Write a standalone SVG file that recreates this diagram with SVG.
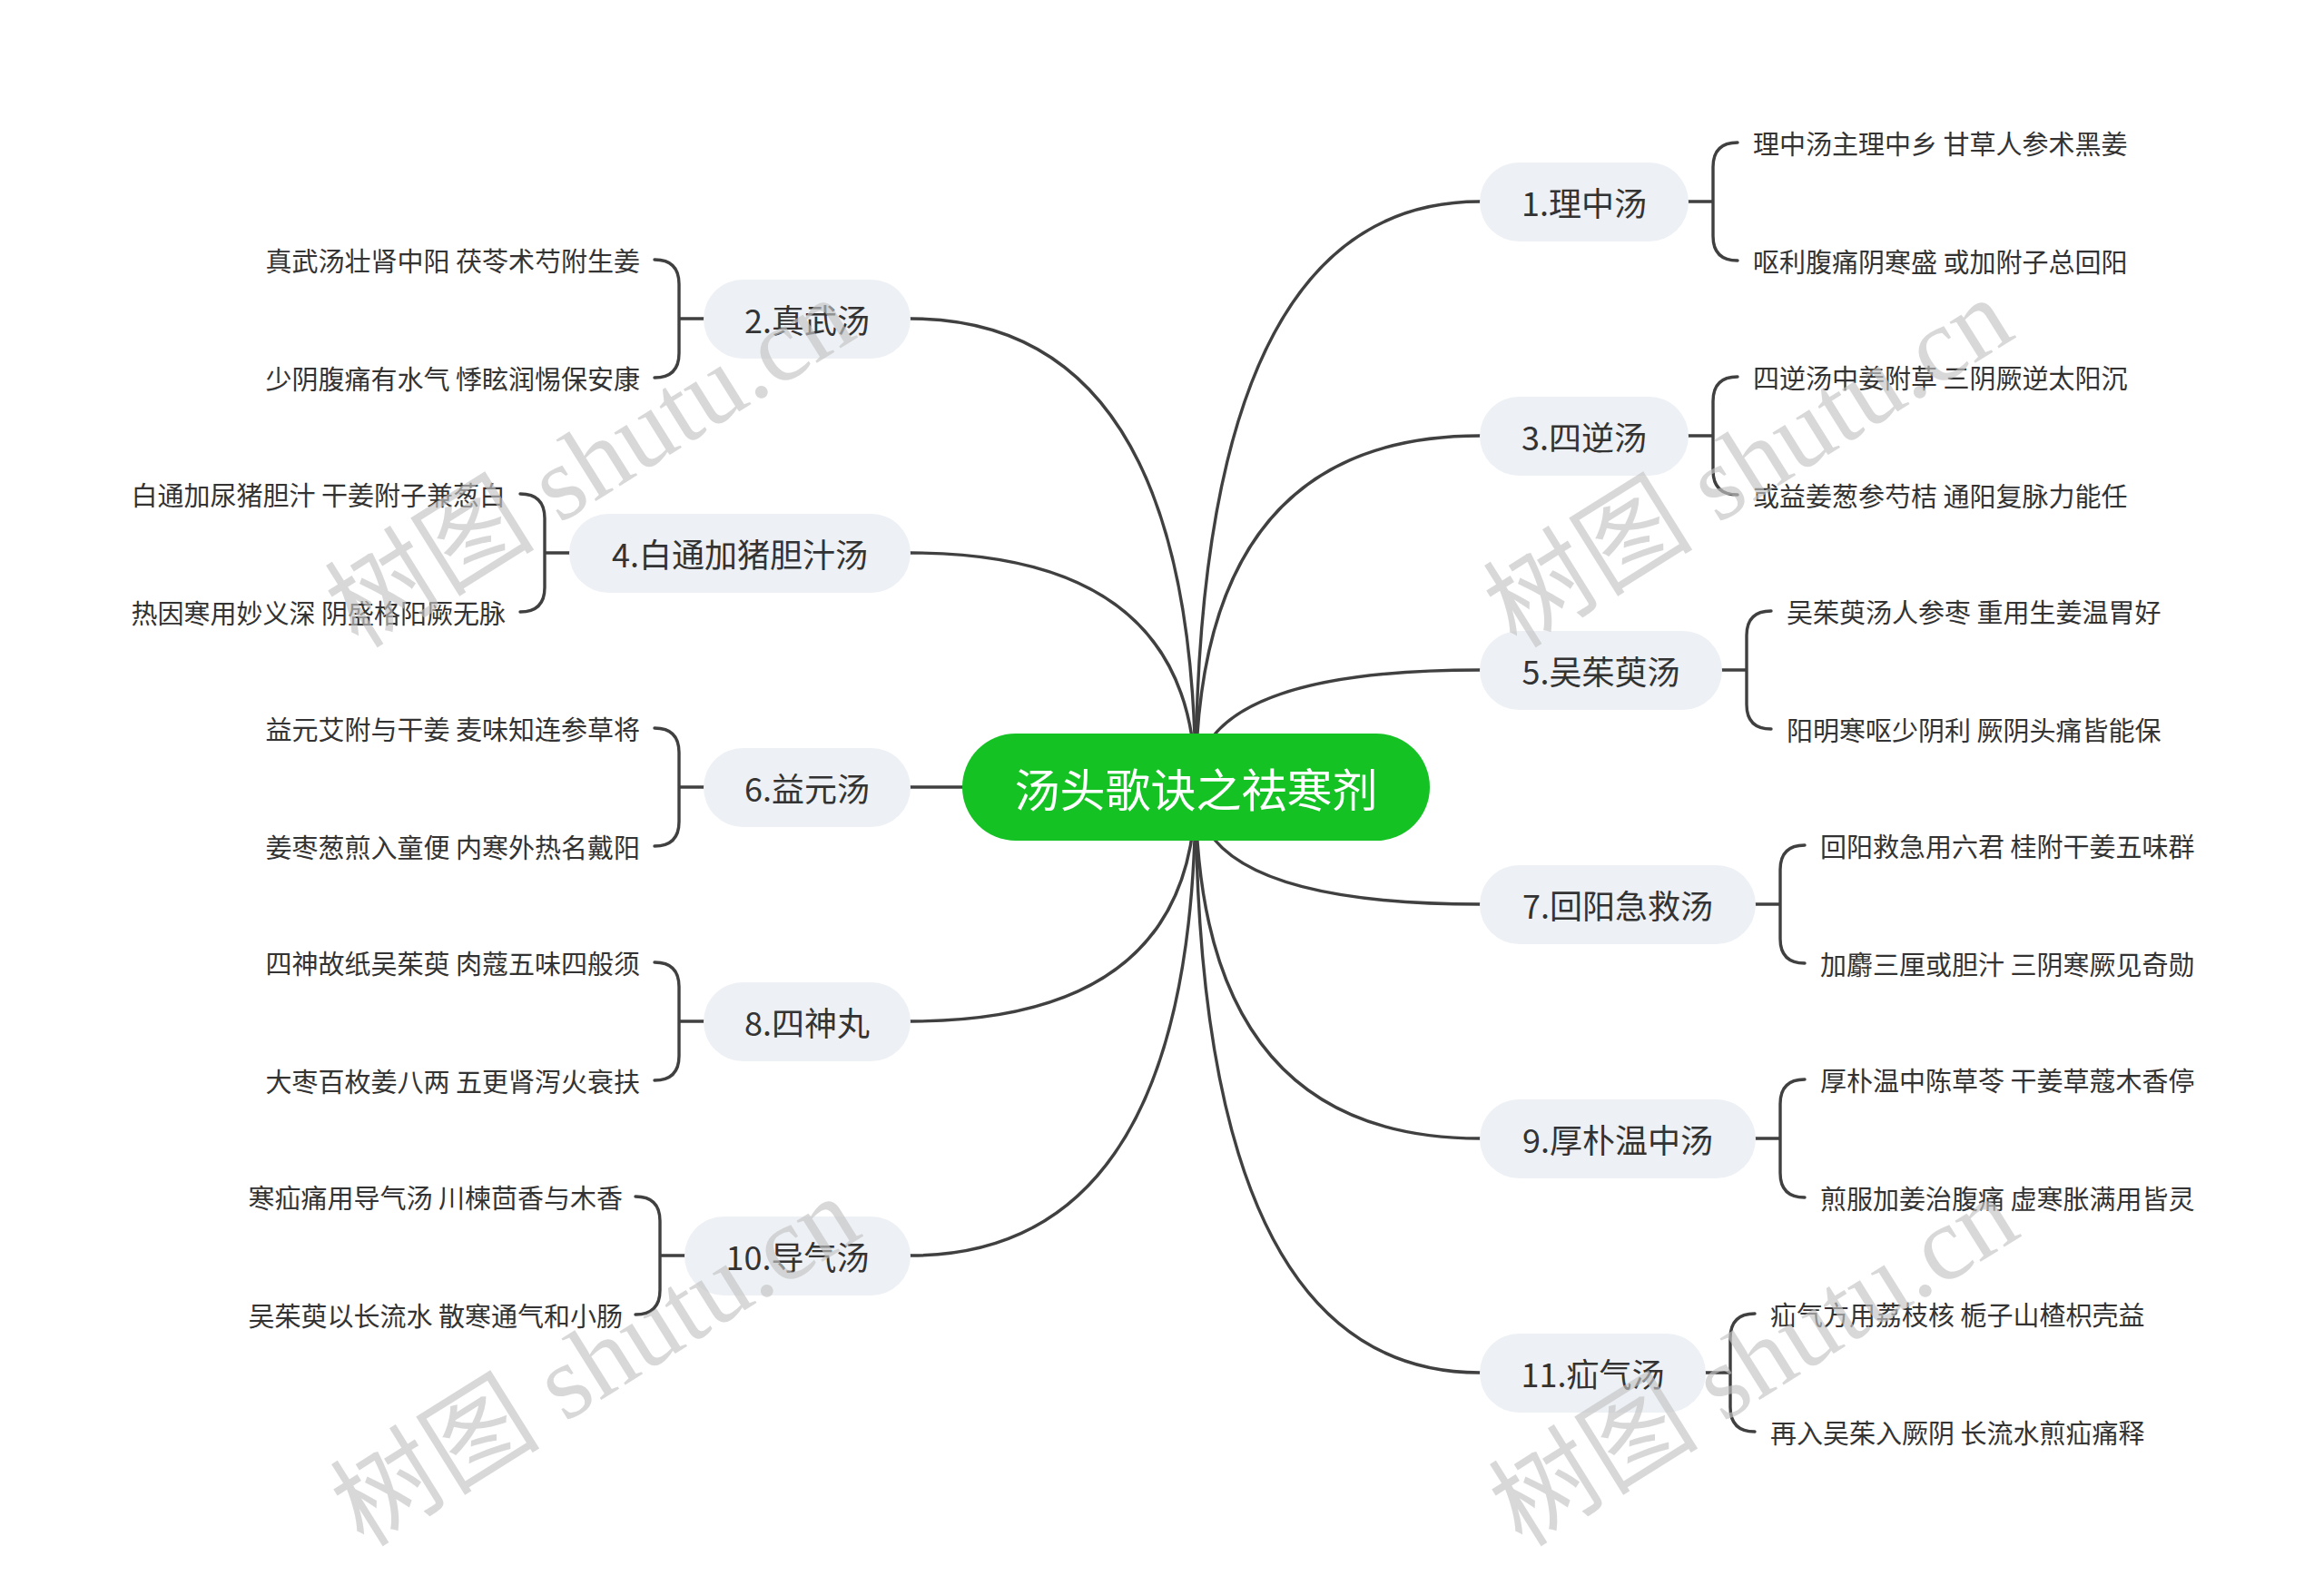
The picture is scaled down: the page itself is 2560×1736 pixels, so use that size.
<svg xmlns="http://www.w3.org/2000/svg" width="2560" height="1736" viewBox="0 0 2560 1736">
<style>
.bg{fill:#ffffff}
.ln{fill:none;stroke:#404040;stroke-width:3.4;stroke-linecap:round}
.pill{fill:#EDF0F4}
.root{fill:#14C224}
.rt{font-family:"Noto Sans CJK SC","Noto Sans",sans-serif;font-size:50px;fill:#ffffff;text-anchor:middle;dominant-baseline:central}
.nt{font-family:"Noto Sans CJK SC","Noto Sans",sans-serif;font-size:36px;fill:#333333;text-anchor:middle;dominant-baseline:central}
.lf{font-family:"Noto Sans CJK SC","Noto Sans",sans-serif;font-size:29px;fill:#333333;dominant-baseline:central}
.r{text-anchor:start}
.l{text-anchor:end}
.wm{font-family:"Liberation Serif","Noto Sans CJK SC",serif;font-size:116px;fill:#c4c4c4;opacity:0.65;text-anchor:middle;dominant-baseline:central}
</style>
<rect class="bg" x="0" y="0" width="2560" height="1736"/>
<g id="connectors">
<path class="ln" d="M1317,867 Q1317,222 1630,222"/>
<path class="ln" d="M1317,867 Q1317,480 1630,480"/>
<path class="ln" d="M1317,867 Q1317,738 1630,738"/>
<path class="ln" d="M1317,867 Q1317,996 1630,996"/>
<path class="ln" d="M1317,867 Q1317,1254 1630,1254"/>
<path class="ln" d="M1317,867 Q1317,1512 1630,1512"/>
<path class="ln" d="M1317,867 Q1317,351 1003,351"/>
<path class="ln" d="M1317,867 Q1317,609 1003,609"/>
<path class="ln" d="M1317,867 L1003,867"/>
<path class="ln" d="M1317,867 Q1317,1125 1003,1125"/>
<path class="ln" d="M1317,867 Q1317,1383 1003,1383"/>
<path class="ln" d="M1860,222 H1887 M1914,157 Q1887,157 1887,184 V260 Q1887,287 1914,287"/>
<path class="ln" d="M1860,480 H1887 M1914,415 Q1887,415 1887,442 V518 Q1887,545 1914,545"/>
<path class="ln" d="M1897,738 H1924 M1951,673 Q1924,673 1924,700 V776 Q1924,803 1951,803"/>
<path class="ln" d="M1934,996 H1961 M1988,931 Q1961,931 1961,958 V1034 Q1961,1061 1988,1061"/>
<path class="ln" d="M1934,1254 H1961 M1988,1189 Q1961,1189 1961,1216 V1292 Q1961,1319 1988,1319"/>
<path class="ln" d="M1879,1512 H1906 M1933,1447 Q1906,1447 1906,1474 V1550 Q1906,1577 1933,1577"/>
<path class="ln" d="M775,351 H748 M721,286 Q748,286 748,313 V389 Q748,416 721,416"/>
<path class="ln" d="M627,609 H600 M573,544 Q600,544 600,571 V647 Q600,674 573,674"/>
<path class="ln" d="M775,867 H748 M721,802 Q748,802 748,829 V905 Q748,932 721,932"/>
<path class="ln" d="M775,1125 H748 M721,1060 Q748,1060 748,1087 V1163 Q748,1190 721,1190"/>
<path class="ln" d="M754,1383 H727 M700,1318 Q727,1318 727,1345 V1421 Q727,1448 700,1448"/>
</g>
<g id="root">
<rect class="root" x="1060" y="808" width="515" height="118" rx="59"/>
<text class="rt" x="1317.5" y="867">汤头歌诀之祛寒剂</text>
</g>
<g id="n1">
<rect class="pill" x="1630" y="179" width="230" height="87" rx="43.5"/>
<text class="nt" x="1745" y="222">1.理中汤</text>
<text class="lf r" x="1931" y="157">理中汤主理中乡 甘草人参术黑姜</text>
<text class="lf r" x="1931" y="287">呕利腹痛阴寒盛 或加附子总回阳</text>
</g>
<g id="n3">
<rect class="pill" x="1630" y="437" width="230" height="87" rx="43.5"/>
<text class="nt" x="1745" y="480">3.四逆汤</text>
<text class="lf r" x="1931" y="415">四逆汤中姜附草 三阴厥逆太阳沉</text>
<text class="lf r" x="1931" y="545">或益姜葱参芍桔 通阳复脉力能任</text>
</g>
<g id="n5">
<rect class="pill" x="1630" y="695" width="267" height="87" rx="43.5"/>
<text class="nt" x="1763.5" y="738">5.吴茱萸汤</text>
<text class="lf r" x="1968" y="673">吴茱萸汤人参枣 重用生姜温胃好</text>
<text class="lf r" x="1968" y="803">阳明寒呕少阴利 厥阴头痛皆能保</text>
</g>
<g id="n7">
<rect class="pill" x="1630" y="953" width="304" height="87" rx="43.5"/>
<text class="nt" x="1782" y="996">7.回阳急救汤</text>
<text class="lf r" x="2005" y="931">回阳救急用六君 桂附干姜五味群</text>
<text class="lf r" x="2005" y="1061">加麝三厘或胆汁 三阴寒厥见奇勋</text>
</g>
<g id="n9">
<rect class="pill" x="1630" y="1211" width="304" height="87" rx="43.5"/>
<text class="nt" x="1782" y="1254">9.厚朴温中汤</text>
<text class="lf r" x="2005" y="1189">厚朴温中陈草苓 干姜草蔻木香停</text>
<text class="lf r" x="2005" y="1319">煎服加姜治腹痛 虚寒胀满用皆灵</text>
</g>
<g id="n11">
<rect class="pill" x="1630" y="1469" width="249" height="87" rx="43.5"/>
<text class="nt" x="1754.5" y="1512">11.疝气汤</text>
<text class="lf r" x="1950" y="1447">疝气方用荔枝核 栀子山楂枳壳益</text>
<text class="lf r" x="1950" y="1577">再入吴茱入厥阴 长流水煎疝痛释</text>
</g>
<g id="n2">
<rect class="pill" x="775" y="308" width="228" height="87" rx="43.5"/>
<text class="nt" x="889" y="351">2.真武汤</text>
<text class="lf l" x="705" y="286">真武汤壮肾中阳 茯苓术芍附生姜</text>
<text class="lf l" x="705" y="416">少阴腹痛有水气 悸眩润惕保安康</text>
</g>
<g id="n4">
<rect class="pill" x="627" y="566" width="376" height="87" rx="43.5"/>
<text class="nt" x="815" y="609">4.白通加猪胆汁汤</text>
<text class="lf l" x="557" y="544">白通加尿猪胆汁 干姜附子兼葱白</text>
<text class="lf l" x="557" y="674">热因寒用妙义深 阴盛格阳厥无脉</text>
</g>
<g id="n6">
<rect class="pill" x="775" y="824" width="228" height="87" rx="43.5"/>
<text class="nt" x="889" y="867">6.益元汤</text>
<text class="lf l" x="705" y="802">益元艾附与干姜 麦味知连参草将</text>
<text class="lf l" x="705" y="932">姜枣葱煎入童便 内寒外热名戴阳</text>
</g>
<g id="n8">
<rect class="pill" x="775" y="1082" width="228" height="87" rx="43.5"/>
<text class="nt" x="889" y="1125">8.四神丸</text>
<text class="lf l" x="705" y="1060">四神故纸吴茱萸 肉蔻五味四般须</text>
<text class="lf l" x="705" y="1190">大枣百枚姜八两 五更肾泻火衰扶</text>
</g>
<g id="n10">
<rect class="pill" x="754" y="1340" width="249" height="87" rx="43.5"/>
<text class="nt" x="878.5" y="1383">10.导气汤</text>
<text class="lf l" x="686" y="1318">寒疝痛用导气汤 川楝茴香与木香</text>
<text class="lf l" x="686" y="1448">吴茱萸以长流水 散寒通气和小肠</text>
</g>
<g id="watermarks">
<text class="wm" transform="translate(650,510) rotate(-32)">树图 shutu.cn</text>
<text class="wm" transform="translate(1926,510) rotate(-32)">树图 shutu.cn</text>
<text class="wm" transform="translate(656,1500) rotate(-32)">树图 shutu.cn</text>
<text class="wm" transform="translate(1932,1500) rotate(-32)">树图 shutu.cn</text>
</g>
</svg>
